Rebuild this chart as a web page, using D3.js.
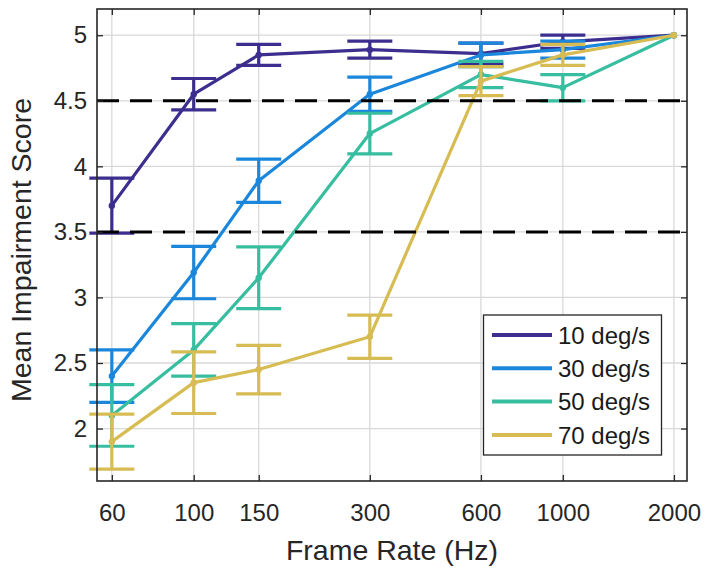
<!DOCTYPE html>
<html><head><meta charset="utf-8">
<script src="https://cdn.jsdelivr.net/npm/d3@7"></script>
<style>body{margin:0;background:#fff;}svg{display:block;font-family:"Liberation Sans",Arial,sans-serif;}</style>
</head><body>
<svg id="c" width="707" height="574"></svg>
<script>
const frameRates = [60, 100, 150, 300, 600, 1000, 2000];
const xTicks = [60, 100, 150, 300, 600, 1000, 2000];
const yTicks = [2, 2.5, 3, 3.5, 4, 4.5, 5];
const thresholds = [3.5, 4.5];
const seriesNames = ["10 deg/s", "30 deg/s", "50 deg/s", "70 deg/s"];
const seriesColors = ["#3b2e8e", "#1b87dc", "#37bd9f", "#d6bc52"];
const mean10 = [3.70, 4.55, 4.85, 4.89, 4.86, 4.95, 5.0];
const err10  = [0.21, 0.12, 0.08, 0.065, 0.08, 0.05, 0];
const mean30 = [2.40, 3.19, 3.89, 4.55, 4.85, 4.89, 5.0];
const err30  = [0.20, 0.20, 0.165, 0.13, 0.09, 0.065, 0];
const mean50 = [2.10, 2.60, 3.15, 4.25, 4.70, 4.60, 5.0];
const err50  = [0.235, 0.20, 0.235, 0.155, 0.10, 0.10, 0];
const mean70 = [1.90, 2.35, 2.45, 2.70, 4.65, 4.85, 5.0];
const err70  = [0.21, 0.235, 0.185, 0.165, 0.11, 0.08, 0];

const means = [mean10, mean30, mean50, mean70];
const errs = [err10, err30, err50, err70];

const svg = d3.select("#c");
const L = 97, R = 687, T = 9, B = 481;
const x = d3.scaleLog().domain([54.7, 2170]).range([L, R]);
const y = d3.scaleLinear().domain([1.6, 5.2]).range([B, T]);
const FONT = "'Liberation Sans',Arial,sans-serif";

// grid
const g = svg.append("g");
g.selectAll(".gx").data(xTicks).enter().append("line")
  .attr("x1", d => x(d)).attr("x2", d => x(d)).attr("y1", T).attr("y2", B)
  .attr("stroke", "#d9d9d9").attr("stroke-width", 1.3);
g.selectAll(".gy").data(yTicks).enter().append("line")
  .attr("y1", d => y(d)).attr("y2", d => y(d)).attr("x1", L).attr("x2", R)
  .attr("stroke", "#d9d9d9").attr("stroke-width", 1.3);

// series
const line = d3.line().x((d, i) => x(frameRates[i])).y(d => y(d));
means.forEach((m, s) => {
  const col = seriesColors[s];
  const gs = svg.append("g");
  gs.append("path").datum(m).attr("d", line).attr("fill", "none")
    .attr("stroke", col).attr("stroke-width", 3.2).attr("stroke-linejoin", "round");
  m.forEach((v, i) => {
    const e = errs[s][i];
    const cx = x(frameRates[i]);
    if (e > 0) {
      gs.append("line").attr("x1", cx).attr("x2", cx).attr("y1", y(v - e)).attr("y2", y(v + e))
        .attr("stroke", col).attr("stroke-width", 3.2);
      [v - e, v + e].forEach(c => {
        gs.append("line").attr("x1", cx - 22.5).attr("x2", cx + 22.5).attr("y1", y(c)).attr("y2", y(c))
          .attr("stroke", col).attr("stroke-width", 3.2);
      });
    }
    gs.append("circle").attr("cx", cx).attr("cy", y(v)).attr("r", 3.2).attr("fill", col);
  });
});

// threshold dashed lines
svg.selectAll(".th").data(thresholds).enter().append("line")
  .attr("x1", L).attr("x2", R).attr("y1", d => y(d)).attr("y2", d => y(d))
  .attr("stroke", "#000").attr("stroke-width", 3).attr("stroke-dasharray", "22,11");

// axes frame and ticks
const axisCol = "#262626";
const xb = d3.axisBottom(x).tickValues(xTicks).tickFormat(d3.format("d")).tickSizeInner(-6).tickSizeOuter(0).tickPadding(23);
const xa = svg.append("g").attr("transform", `translate(0,${B})`).call(xb);
const xt = d3.axisTop(x).tickValues(xTicks).tickFormat("").tickSizeInner(-6).tickSizeOuter(0);
svg.append("g").attr("transform", `translate(0,${T})`).call(xt);
const yl = d3.axisLeft(y).tickValues(yTicks).tickFormat(d3.format("")).tickSizeInner(-6).tickSizeOuter(0).tickPadding(10);
const ya = svg.append("g").attr("transform", `translate(${L},0)`).call(yl);
const yr = d3.axisRight(y).tickValues(yTicks).tickFormat("").tickSizeInner(-6).tickSizeOuter(0);
svg.append("g").attr("transform", `translate(${R},0)`).call(yr);
svg.selectAll(".domain").remove();
svg.selectAll(".tick line").attr("stroke", axisCol).attr("stroke-width", 1.3);
svg.selectAll(".tick text").attr("fill", axisCol).style("font-size", "24px").style("font-family", FONT);
xa.selectAll(".tick text").attr("dy", "0.71em");
svg.append("rect").attr("x", L).attr("y", T).attr("width", R - L).attr("height", B - T)
  .attr("fill", "none").attr("stroke", axisCol).attr("stroke-width", 1.6);

// axis labels
svg.append("text").attr("x", (L + R) / 2).attr("y", 560).attr("text-anchor", "middle")
  .attr("fill", axisCol).style("font-size", "28.5px").style("font-family", FONT).text("Frame Rate (Hz)");
svg.append("text").attr("transform", `translate(31,${(T + B) / 2 + 5}) rotate(-90)`).attr("text-anchor", "middle")
  .attr("fill", axisCol).style("font-size", "28.5px").style("font-family", FONT).text("Mean Impairment Score");

// legend
const lg = svg.append("g");
lg.append("rect").attr("x", 483.5).attr("y", 315).attr("width", 178).attr("height", 140)
  .attr("fill", "#fff").attr("stroke", axisCol).attr("stroke-width", 1.3);
seriesNames.forEach((n, i) => {
  const yy = 335 + i * 33.3;
  lg.append("line").attr("x1", 492).attr("x2", 552).attr("y1", yy).attr("y2", yy)
    .attr("stroke", seriesColors[i]).attr("stroke-width", 4);
  lg.append("text").attr("x", 558).attr("y", yy).attr("dy", "0.36em")
    .attr("fill", "#1a1a1a").style("font-size", "24px").style("font-family", FONT).text(n);
});
</script>
</body></html>
